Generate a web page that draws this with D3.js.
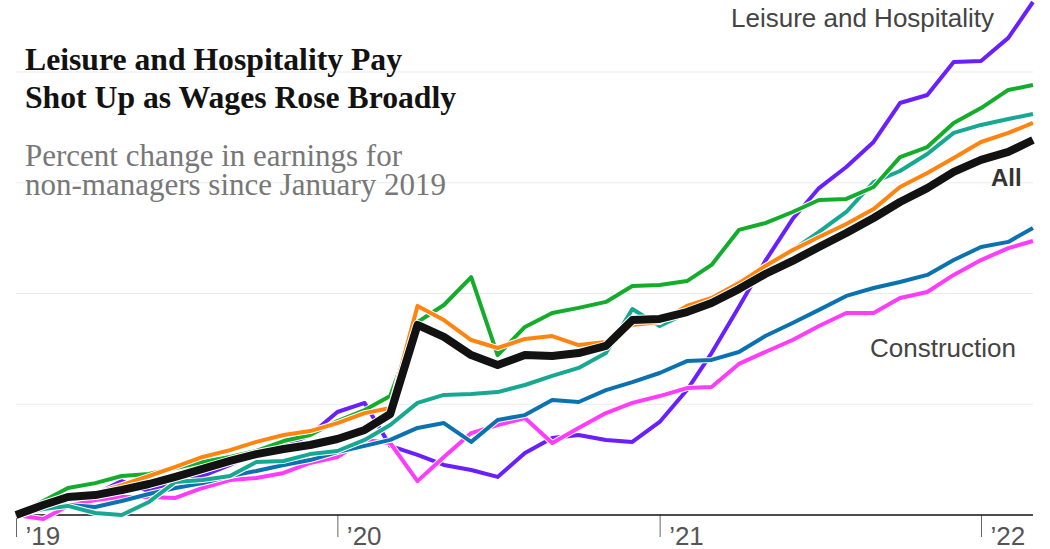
<!DOCTYPE html>
<html><head><meta charset="utf-8">
<script src="https://cdn.jsdelivr.net/npm/d3@7"></script>
<style>
html,body{margin:0;padding:0;background:#fff;overflow:hidden}
svg{display:block}
</style></head>
<body>
<svg id="chart" width="1050" height="549"></svg>
<script>
// ---- data (percent change since January 2019) ----
const months = ["2019-01","2019-02","2019-03","2019-04","2019-05","2019-06","2019-07","2019-08","2019-09","2019-10","2019-11","2019-12",
  "2020-01","2020-02","2020-03","2020-04","2020-05","2020-06","2020-07","2020-08","2020-09","2020-10","2020-11","2020-12",
  "2021-01","2021-02","2021-03","2021-04","2021-05","2021-06","2021-07","2021-08","2021-09","2021-10","2021-11","2021-12",
  "2022-01","2022-02","2022-03"];
const leisure = [0,0.36,0.68,0.95,1.53,1.08,1.49,1.76,2.26,2.84,3.12,3.61,4.65,5.06,3.12,2.71,2.26,2.03,1.72,2.80,3.48,3.61,3.39,3.30,4.20,5.64,7.31,9.39,11.47,13.36,14.76,15.71,16.84,18.60,18.96,20.45,20.50,21.54,23.16];
const seriesGreen = [0,0.63,1.22,1.44,1.76,1.85,2.12,2.39,2.62,2.89,3.34,3.61,4.24,4.74,5.37,8.71,9.48,10.74,7.22,8.49,9.12,9.35,9.62,10.34,10.38,10.56,11.29,12.87,13.18,13.68,14.22,14.27,14.81,16.16,16.61,17.70,18.37,19.19,19.41];
const seriesTeal = [0,0.27,0.41,0.09,0,0.59,1.49,1.58,1.76,2.39,2.44,2.75,2.89,3.39,4.06,5.06,5.42,5.46,5.55,5.87,6.28,6.64,7.31,9.30,8.53,9.12,9.75,10.52,11.24,11.96,12.78,13.68,15.03,15.53,16.30,17.25,17.61,17.88,18.10];
const seriesOrange = [0,0.45,0.77,0.99,1.35,1.76,2.17,2.62,2.93,3.30,3.61,3.79,4.15,4.60,4.83,9.44,8.80,7.90,7.54,7.95,8.08,7.67,7.81,8.58,8.71,9.44,9.80,10.47,11.24,11.96,12.55,13.14,13.81,14.81,15.44,16.12,16.84,17.25,17.70];
const seriesBlue = [0,0.27,0.45,0.36,0.63,0.95,1.22,1.44,1.76,1.99,2.26,2.48,2.84,3.12,3.39,3.93,4.15,3.30,4.29,4.51,5.19,5.10,5.64,6.00,6.41,6.95,7.00,7.36,8.08,8.67,9.26,9.89,10.25,10.52,10.84,11.51,12.10,12.33,12.96];
const construction = [0,-0.18,0.41,0.68,0.81,0.81,0.77,1.22,1.58,1.67,1.90,2.35,2.62,3.39,3.25,1.53,2.62,3.70,4.06,4.38,3.25,3.93,4.60,5.06,5.37,5.73,5.78,6.82,7.36,7.90,8.53,9.12,9.12,9.80,10.07,10.84,11.51,12.05,12.37];
const allWorkers = [0,0.45,0.81,0.90,1.13,1.40,1.72,2.08,2.44,2.75,2.98,3.16,3.43,3.84,4.56,8.58,8.04,7.22,6.77,7.22,7.18,7.31,7.63,8.80,8.85,9.16,9.57,10.20,10.88,11.47,12.10,12.73,13.41,14.13,14.76,15.49,16.03,16.39,16.93];
const gridValues = [5, 10, 15, 20];
const tickYears = ["2019-01","2020-01","2021-01","2022-01"];

// ---- setup ----
const svg = d3.select("#chart");
const parse = d3.timeParse("%Y-%m");
const dates = months.map(parse);

const x = d3.scaleTime()
  .domain([parse("2019-01"), parse("2022-01")])
  .range([16, 981]);
const y = d3.scaleLinear().domain([0, 20]).range([515, 72]);

const xEnd = x(parse("2022-03"));

// gridlines
svg.append("g").selectAll("line").data(gridValues).join("line")
  .attr("x1", 16).attr("x2", xEnd)
  .attr("y1", d => y(d)).attr("y2", d => y(d))
  .attr("stroke", "#ebebeb").attr("stroke-width", 1);

// titles
const serif = "'Liberation Serif', 'Times New Roman', serif";
const sans = "'Liberation Sans', Arial, sans-serif";
svg.append("text").attr("x", 25).attr("y", 70)
  .attr("font-family", serif).attr("font-weight", "bold").attr("font-size", 31.7)
  .attr("fill", "#121212").text("Leisure and Hospitality Pay");
svg.append("text").attr("x", 25).attr("y", 108)
  .attr("font-family", serif).attr("font-weight", "bold").attr("font-size", 31.7)
  .attr("fill", "#121212").text("Shot Up as Wages Rose Broadly");
svg.append("text").attr("x", 25).attr("y", 166)
  .attr("font-family", serif).attr("font-size", 31)
  .attr("fill", "#777").text("Percent change in earnings for");
svg.append("text").attr("x", 25).attr("y", 195)
  .attr("font-family", serif).attr("font-size", 31)
  .attr("fill", "#777").text("non-managers since January 2019");

// axis
const axis = d3.axisBottom(x)
  .tickValues(tickYears.map(parse))
  .tickSize(22)
  .tickFormat(d => "\u2019" + d3.timeFormat("%y")(d));
const gAxis = svg.append("g").attr("transform", "translate(0,515)").call(axis);
gAxis.select(".domain").remove();
gAxis.selectAll(".tick line").attr("stroke", "#666").attr("stroke-width", 1);
gAxis.selectAll(".tick text")
  .attr("x", 9).attr("y", 30).attr("dy", 0)
  .attr("text-anchor", "start")
  .attr("font-family", sans).attr("font-size", 26).attr("fill", "#555");
svg.append("line").attr("x1", 16).attr("x2", xEnd).attr("y1", 515).attr("y2", 515)
  .attr("stroke", "#111").attr("stroke-width", 1.5);

// lines
const series = [
  {name: "Leisure and Hospitality", values: leisure, color: "#6a1fff", w: 4},
  {name: "Construction", values: construction, color: "#ff3cfb", w: 4},
  {name: "blue", values: seriesBlue, color: "#0b72b0", w: 4},
  {name: "teal", values: seriesTeal, color: "#16a890", w: 4},
  {name: "green", values: seriesGreen, color: "#13ad2b", w: 4},
  {name: "orange", values: seriesOrange, color: "#ff8410", w: 4},
  {name: "All", values: allWorkers, color: "#121212", w: 8}
];
const line = d3.line().x((d, i) => x(dates[i])).y(d => y(d));
const gLines = svg.append("g");
series.forEach(s => {
  gLines.append("path").datum(s.values).attr("d", line)
    .attr("fill", "none").attr("stroke", "#fff").attr("stroke-width", s.w + 2)
    .attr("stroke-linejoin", "round");
  gLines.append("path").datum(s.values).attr("d", line)
    .attr("fill", "none").attr("stroke", s.color).attr("stroke-width", s.w)
    .attr("stroke-linejoin", "round");
});

// labels
svg.append("text").attr("x", 731).attr("y", 27)
  .attr("font-family", sans).attr("font-size", 26).attr("fill", "#444")
  .text("Leisure and Hospitality");
svg.append("text").attr("x", 991).attr("y", 186)
  .attr("font-family", sans).attr("font-size", 24).attr("font-weight", "bold").attr("fill", "#333")
  .text("All");
svg.append("text").attr("x", 870).attr("y", 357)
  .attr("font-family", sans).attr("font-size", 26).attr("fill", "#444")
  .text("Construction");
</script>
</body></html>
